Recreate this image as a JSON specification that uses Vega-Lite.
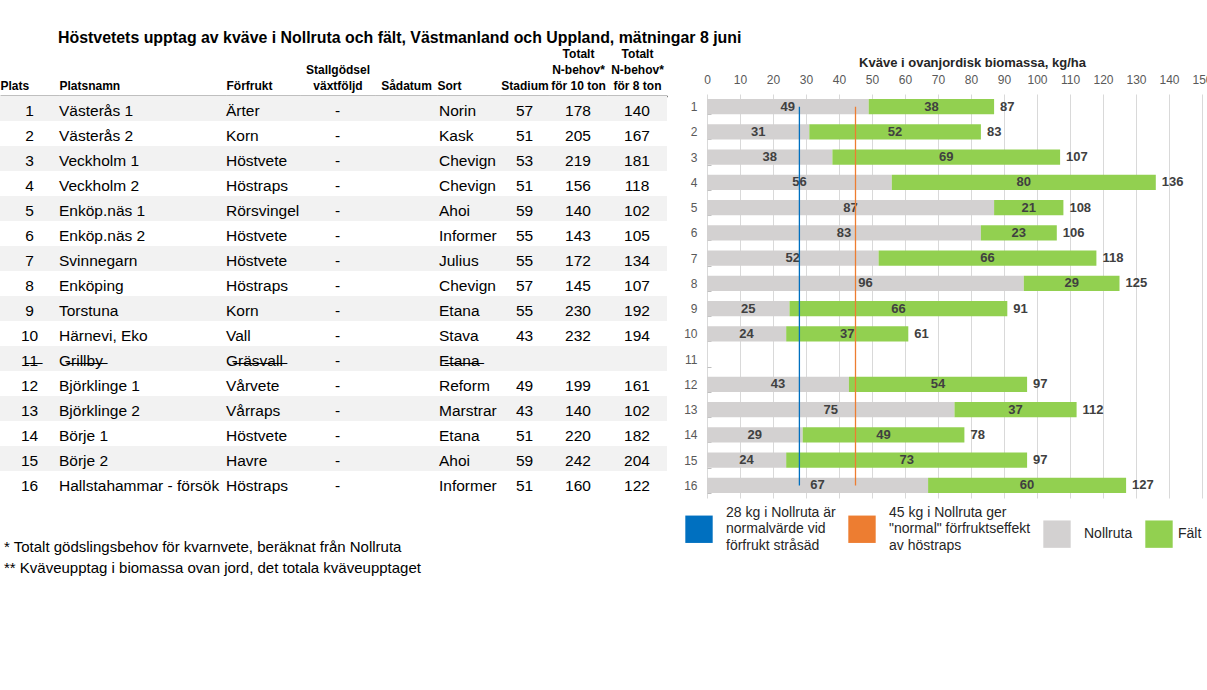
{
  "$schema": "https://vega.github.io/schema/vega-lite/v6.json",
  "background": "white",
  "padding": {"left": 0, "top": 30, "right": 0, "bottom": 0},
  "config": {"view": {"stroke": null}, "font": "Liberation Sans"},
  "title": {
    "text": "Höstvetets upptag av kväve i Nollruta och fält, Västmanland och Uppland, mätningar 8 juni",
    "anchor": "start", "frame": "group", "dx": 58, "offset": 1,
    "fontSize": 15.9, "fontWeight": "bold", "color": "#000000"
  },
  "data": {
    "values": [
      {"Plats": 1, "Platsnamn": "Västerås 1", "Förfrukt": "Ärter", "Stallgödsel": "-", "Sort": "Norin", "Stadium": 57, "N10": 178, "N8": 140, "Nollruta": 49, "Fält": 38},
      {"Plats": 2, "Platsnamn": "Västerås 2", "Förfrukt": "Korn", "Stallgödsel": "-", "Sort": "Kask", "Stadium": 51, "N10": 205, "N8": 167, "Nollruta": 31, "Fält": 52},
      {"Plats": 3, "Platsnamn": "Veckholm 1", "Förfrukt": "Höstvete", "Stallgödsel": "-", "Sort": "Chevign", "Stadium": 53, "N10": 219, "N8": 181, "Nollruta": 38, "Fält": 69},
      {"Plats": 4, "Platsnamn": "Veckholm 2", "Förfrukt": "Höstraps", "Stallgödsel": "-", "Sort": "Chevign", "Stadium": 51, "N10": 156, "N8": 118, "Nollruta": 56, "Fält": 80},
      {"Plats": 5, "Platsnamn": "Enköp.näs 1", "Förfrukt": "Rörsvingel", "Stallgödsel": "-", "Sort": "Ahoi", "Stadium": 59, "N10": 140, "N8": 102, "Nollruta": 87, "Fält": 21},
      {"Plats": 6, "Platsnamn": "Enköp.näs 2", "Förfrukt": "Höstvete", "Stallgödsel": "-", "Sort": "Informer", "Stadium": 55, "N10": 143, "N8": 105, "Nollruta": 83, "Fält": 23},
      {"Plats": 7, "Platsnamn": "Svinnegarn", "Förfrukt": "Höstvete", "Stallgödsel": "-", "Sort": "Julius", "Stadium": 55, "N10": 172, "N8": 134, "Nollruta": 52, "Fält": 66},
      {"Plats": 8, "Platsnamn": "Enköping", "Förfrukt": "Höstraps", "Stallgödsel": "-", "Sort": "Chevign", "Stadium": 57, "N10": 145, "N8": 107, "Nollruta": 96, "Fält": 29},
      {"Plats": 9, "Platsnamn": "Torstuna", "Förfrukt": "Korn", "Stallgödsel": "-", "Sort": "Etana", "Stadium": 55, "N10": 230, "N8": 192, "Nollruta": 25, "Fält": 66},
      {"Plats": 10, "Platsnamn": "Härnevi, Eko", "Förfrukt": "Vall", "Stallgödsel": "-", "Sort": "Stava", "Stadium": 43, "N10": 232, "N8": 194, "Nollruta": 24, "Fält": 37},
      {"Plats": 11, "Platsnamn": "Grillby", "Förfrukt": "Gräsvall", "Stallgödsel": "-", "Sort": "Etana", "Stadium": null, "N10": null, "N8": null, "Nollruta": null, "Fält": null},
      {"Plats": 12, "Platsnamn": "Björklinge 1", "Förfrukt": "Vårvete", "Stallgödsel": "-", "Sort": "Reform", "Stadium": 49, "N10": 199, "N8": 161, "Nollruta": 43, "Fält": 54},
      {"Plats": 13, "Platsnamn": "Björklinge 2", "Förfrukt": "Vårraps", "Stallgödsel": "-", "Sort": "Marstrar", "Stadium": 43, "N10": 140, "N8": 102, "Nollruta": 75, "Fält": 37},
      {"Plats": 14, "Platsnamn": "Börje 1", "Förfrukt": "Höstvete", "Stallgödsel": "-", "Sort": "Etana", "Stadium": 51, "N10": 220, "N8": 182, "Nollruta": 29, "Fält": 49},
      {"Plats": 15, "Platsnamn": "Börje 2", "Förfrukt": "Havre", "Stallgödsel": "-", "Sort": "Ahoi", "Stadium": 59, "N10": 242, "N8": 204, "Nollruta": 24, "Fält": 73},
      {"Plats": 16, "Platsnamn": "Hallstahammar - försök", "Förfrukt": "Höstraps", "Stallgödsel": "-", "Sort": "Informer", "Stadium": 51, "N10": 160, "N8": 122, "Nollruta": 67, "Fält": 60}
    ]
  },
  "bounds": "flush",
  "center": true,
  "spacing": 0,
  "resolve": {"scale": {"color": "independent"}, "legend": {"color": "independent"}},
  "hconcat": [
    {
      "width": 59, "height": 400,
      "title": {
        "text": ["* Totalt gödslingsbehov för kvarnvete, beräknat från Nollruta", "** Kväveupptag i biomassa ovan jord, det totala kväveupptaget"],
        "orient": "bottom", "anchor": "start", "frame": "group", "offset": 44, "dx": 4,
        "fontSize": 15, "fontWeight": "normal", "color": "#000000", "lineHeight": 21
      },
      "layer": [
        {
          "transform": [{"filter": "datum.Plats % 2 == 1"}],
          "mark": {"type": "rect", "color": "#F2F2F2"},
          "encoding": {"y": {"field": "Plats", "type": "ordinal", "scale": {"domain": [1,2,3,4,5,6,7,8,9,10,11,12,13,14,15,16], "paddingInner": 0, "paddingOuter": 0}, "axis": null}}
        },
        {
          "transform": [
            {"fold": ["Plats"], "as": ["kolumn", "varde"]},
            {"calculate": "!isValid(datum.varde) ? '' : datum.Plats == 11 ? replace(datum.varde + '', regexp('(.)', 'g'), '$1\u0336') : datum.varde", "as": "visning"}
          ],
          "mark": {"type": "text", "align": "center", "baseline": "middle", "dy": 2.5, "fontSize": 15.5, "color": "#000000"},
          "encoding": {
            "y": {"field": "Plats", "type": "ordinal", "axis": null},
            "x": {"field": "kolumn", "type": "nominal", "bandPosition": 0.5, "scale": {"type": "band", "paddingInner": 0, "paddingOuter": 0},
                  "axis": {"orient": "top", "title": "Plats", "titleAnchor": "start", "labels": false, "ticks": false, "domainColor": "#000000", "domainWidth": 1.5, "titleFontSize": 12, "titleFontWeight": "bold", "titleColor": "#000000", "titlePadding": 4, "titleLineHeight": 16}},
            "text": {"field": "visning", "type": "nominal"}
          }
        }
      ]
    },
    {
      "width": 167, "height": 400,
      "layer": [
        {
          "transform": [{"filter": "datum.Plats % 2 == 1"}],
          "mark": {"type": "rect", "color": "#F2F2F2"},
          "encoding": {"y": {"field": "Plats", "type": "ordinal", "scale": {"domain": [1,2,3,4,5,6,7,8,9,10,11,12,13,14,15,16], "paddingInner": 0, "paddingOuter": 0}, "axis": null}}
        },
        {
          "transform": [
            {"fold": ["Platsnamn"], "as": ["kolumn", "varde"]},
            {"calculate": "!isValid(datum.varde) ? '' : datum.Plats == 11 ? replace(datum.varde + '', regexp('(.)', 'g'), '$1\u0336') : datum.varde", "as": "visning"}
          ],
          "mark": {"type": "text", "align": "left", "baseline": "middle", "dy": 2.5, "fontSize": 15.5, "color": "#000000"},
          "encoding": {
            "y": {"field": "Plats", "type": "ordinal", "axis": null},
            "x": {"field": "kolumn", "type": "nominal", "bandPosition": 0, "scale": {"type": "band", "paddingInner": 0, "paddingOuter": 0},
                  "axis": {"orient": "top", "title": "Platsnamn", "titleAnchor": "start", "labels": false, "ticks": false, "domainColor": "#000000", "domainWidth": 1.5, "titleFontSize": 12, "titleFontWeight": "bold", "titleColor": "#000000", "titlePadding": 4, "titleLineHeight": 16}},
            "text": {"field": "visning", "type": "nominal"}
          }
        }
      ]
    },
    {
      "width": 74, "height": 400,
      "layer": [
        {
          "transform": [{"filter": "datum.Plats % 2 == 1"}],
          "mark": {"type": "rect", "color": "#F2F2F2"},
          "encoding": {"y": {"field": "Plats", "type": "ordinal", "scale": {"domain": [1,2,3,4,5,6,7,8,9,10,11,12,13,14,15,16], "paddingInner": 0, "paddingOuter": 0}, "axis": null}}
        },
        {
          "transform": [
            {"fold": ["Förfrukt"], "as": ["kolumn", "varde"]},
            {"calculate": "!isValid(datum.varde) ? '' : datum.Plats == 11 ? replace(datum.varde + '', regexp('(.)', 'g'), '$1\u0336') : datum.varde", "as": "visning"}
          ],
          "mark": {"type": "text", "align": "left", "baseline": "middle", "dy": 2.5, "fontSize": 15.5, "color": "#000000"},
          "encoding": {
            "y": {"field": "Plats", "type": "ordinal", "axis": null},
            "x": {"field": "kolumn", "type": "nominal", "bandPosition": 0, "scale": {"type": "band", "paddingInner": 0, "paddingOuter": 0},
                  "axis": {"orient": "top", "title": "Förfrukt", "titleAnchor": "start", "labels": false, "ticks": false, "domainColor": "#000000", "domainWidth": 1.5, "titleFontSize": 12, "titleFontWeight": "bold", "titleColor": "#000000", "titlePadding": 4, "titleLineHeight": 16}},
            "text": {"field": "visning", "type": "nominal"}
          }
        }
      ]
    },
    {
      "width": 75, "height": 400,
      "layer": [
        {
          "transform": [{"filter": "datum.Plats % 2 == 1"}],
          "mark": {"type": "rect", "color": "#F2F2F2"},
          "encoding": {"y": {"field": "Plats", "type": "ordinal", "scale": {"domain": [1,2,3,4,5,6,7,8,9,10,11,12,13,14,15,16], "paddingInner": 0, "paddingOuter": 0}, "axis": null}}
        },
        {
          "transform": [
            {"fold": ["Stallgödsel"], "as": ["kolumn", "varde"]},
            {"calculate": "isValid(datum.varde) ? datum.varde : ''", "as": "visning"}
          ],
          "mark": {"type": "text", "align": "center", "baseline": "middle", "dy": 2.5, "fontSize": 15.5, "color": "#000000"},
          "encoding": {
            "y": {"field": "Plats", "type": "ordinal", "axis": null},
            "x": {"field": "kolumn", "type": "nominal", "bandPosition": 0.5, "scale": {"type": "band", "paddingInner": 0, "paddingOuter": 0},
                  "axis": {"orient": "top", "title": ["Stallgödsel", "växtföljd"], "titleAnchor": "middle", "labels": false, "ticks": false, "domainColor": "#000000", "domainWidth": 1.5, "titleFontSize": 12, "titleFontWeight": "bold", "titleColor": "#000000", "titlePadding": 4, "titleLineHeight": 16}},
            "text": {"field": "visning", "type": "nominal"}
          }
        }
      ]
    },
    {
      "width": 62, "height": 400,
      "layer": [
        {
          "transform": [{"filter": "datum.Plats % 2 == 1"}],
          "mark": {"type": "rect", "color": "#F2F2F2"},
          "encoding": {"y": {"field": "Plats", "type": "ordinal", "scale": {"domain": [1,2,3,4,5,6,7,8,9,10,11,12,13,14,15,16], "paddingInner": 0, "paddingOuter": 0}, "axis": null}}
        },
        {
          "transform": [
            {"fold": ["Sådatum"], "as": ["kolumn", "varde"]},
            {"calculate": "isValid(datum.varde) ? datum.varde : ''", "as": "visning"}
          ],
          "mark": {"type": "text", "align": "center", "baseline": "middle", "dy": 2.5, "fontSize": 15.5, "color": "#000000"},
          "encoding": {
            "y": {"field": "Plats", "type": "ordinal", "axis": null},
            "x": {"field": "kolumn", "type": "nominal", "bandPosition": 0.5, "scale": {"type": "band", "paddingInner": 0, "paddingOuter": 0},
                  "axis": {"orient": "top", "title": "Sådatum", "titleAnchor": "middle", "labels": false, "ticks": false, "domainColor": "#000000", "domainWidth": 1.5, "titleFontSize": 12, "titleFontWeight": "bold", "titleColor": "#000000", "titlePadding": 4, "titleLineHeight": 16}},
            "text": {"field": "visning", "type": "nominal"}
          }
        }
      ]
    },
    {
      "width": 63, "height": 400,
      "layer": [
        {
          "transform": [{"filter": "datum.Plats % 2 == 1"}],
          "mark": {"type": "rect", "color": "#F2F2F2"},
          "encoding": {"y": {"field": "Plats", "type": "ordinal", "scale": {"domain": [1,2,3,4,5,6,7,8,9,10,11,12,13,14,15,16], "paddingInner": 0, "paddingOuter": 0}, "axis": null}}
        },
        {
          "transform": [
            {"fold": ["Sort"], "as": ["kolumn", "varde"]},
            {"calculate": "!isValid(datum.varde) ? '' : datum.Plats == 11 ? replace(datum.varde + '', regexp('(.)', 'g'), '$1\u0336') : datum.varde", "as": "visning"}
          ],
          "mark": {"type": "text", "align": "left", "baseline": "middle", "dx": 2, "dy": 2.5, "fontSize": 15.5, "color": "#000000"},
          "encoding": {
            "y": {"field": "Plats", "type": "ordinal", "axis": null},
            "x": {"field": "kolumn", "type": "nominal", "bandPosition": 0, "scale": {"type": "band", "paddingInner": 0, "paddingOuter": 0},
                  "axis": {"orient": "top", "title": "Sort", "titleAnchor": "start", "labels": false, "ticks": false, "domainColor": "#000000", "domainWidth": 1.5, "titleFontSize": 12, "titleFontWeight": "bold", "titleColor": "#000000", "titlePadding": 4, "titleLineHeight": 16}},
            "text": {"field": "visning", "type": "nominal"}
          }
        }
      ]
    },
    {
      "width": 49, "height": 400,
      "layer": [
        {
          "transform": [{"filter": "datum.Plats % 2 == 1"}],
          "mark": {"type": "rect", "color": "#F2F2F2"},
          "encoding": {"y": {"field": "Plats", "type": "ordinal", "scale": {"domain": [1,2,3,4,5,6,7,8,9,10,11,12,13,14,15,16], "paddingInner": 0, "paddingOuter": 0}, "axis": null}}
        },
        {
          "transform": [
            {"fold": ["Stadium"], "as": ["kolumn", "varde"]},
            {"calculate": "isValid(datum.varde) ? datum.varde : ''", "as": "visning"}
          ],
          "mark": {"type": "text", "align": "center", "baseline": "middle", "dy": 2.5, "fontSize": 15.5, "color": "#000000"},
          "encoding": {
            "y": {"field": "Plats", "type": "ordinal", "axis": null},
            "x": {"field": "kolumn", "type": "nominal", "bandPosition": 0.5, "scale": {"type": "band", "paddingInner": 0, "paddingOuter": 0},
                  "axis": {"orient": "top", "title": "Stadium", "titleAnchor": "middle", "labels": false, "ticks": false, "domainColor": "#000000", "domainWidth": 1.5, "titleFontSize": 12, "titleFontWeight": "bold", "titleColor": "#000000", "titlePadding": 4, "titleLineHeight": 16}},
            "text": {"field": "visning", "type": "nominal"}
          }
        }
      ]
    },
    {
      "width": 58, "height": 400,
      "layer": [
        {
          "transform": [{"filter": "datum.Plats % 2 == 1"}],
          "mark": {"type": "rect", "color": "#F2F2F2"},
          "encoding": {"y": {"field": "Plats", "type": "ordinal", "scale": {"domain": [1,2,3,4,5,6,7,8,9,10,11,12,13,14,15,16], "paddingInner": 0, "paddingOuter": 0}, "axis": null}}
        },
        {
          "transform": [
            {"fold": ["N10"], "as": ["kolumn", "varde"]},
            {"calculate": "isValid(datum.varde) ? datum.varde : ''", "as": "visning"}
          ],
          "mark": {"type": "text", "align": "center", "baseline": "middle", "dy": 2.5, "fontSize": 15.5, "color": "#000000"},
          "encoding": {
            "y": {"field": "Plats", "type": "ordinal", "axis": null},
            "x": {"field": "kolumn", "type": "nominal", "bandPosition": 0.5, "scale": {"type": "band", "paddingInner": 0, "paddingOuter": 0},
                  "axis": {"orient": "top", "title": ["Totalt", "N-behov*", "för 10 ton"], "titleAnchor": "middle", "labels": false, "ticks": false, "domainColor": "#000000", "domainWidth": 1.5, "titleFontSize": 12, "titleFontWeight": "bold", "titleColor": "#000000", "titlePadding": 4, "titleLineHeight": 16}},
            "text": {"field": "visning", "type": "nominal"}
          }
        }
      ]
    },
    {
      "width": 60, "height": 400,
      "layer": [
        {
          "transform": [{"filter": "datum.Plats % 2 == 1"}],
          "mark": {"type": "rect", "color": "#F2F2F2"},
          "encoding": {"y": {"field": "Plats", "type": "ordinal", "scale": {"domain": [1,2,3,4,5,6,7,8,9,10,11,12,13,14,15,16], "paddingInner": 0, "paddingOuter": 0}, "axis": null}}
        },
        {
          "transform": [
            {"fold": ["N8"], "as": ["kolumn", "varde"]},
            {"calculate": "isValid(datum.varde) ? datum.varde : ''", "as": "visning"}
          ],
          "mark": {"type": "text", "align": "center", "baseline": "middle", "dy": 2.5, "fontSize": 15.5, "color": "#000000"},
          "encoding": {
            "y": {"field": "Plats", "type": "ordinal", "axis": null},
            "x": {"field": "kolumn", "type": "nominal", "bandPosition": 0.5, "scale": {"type": "band", "paddingInner": 0, "paddingOuter": 0},
                  "axis": {"orient": "top", "title": ["Totalt", "N-behov*", "för 8 ton"], "titleAnchor": "middle", "labels": false, "ticks": false, "domainColor": "#000000", "domainWidth": 1.5, "titleFontSize": 12, "titleFontWeight": "bold", "titleColor": "#000000", "titlePadding": 4, "titleLineHeight": 16}},
            "text": {"field": "visning", "type": "nominal"}
          }
        }
      ]
    },
    {
      "width": 40, "height": 400,
      "data": {"values": []},
      "mark": {"type": "rect"},
      "encoding": {}
    },
    {
      "width": 495, "height": 404,
      "layer": [
        {
          "transform": [{"fold": ["Nollruta", "Fält"], "as": ["serie", "kg"]}, {"filter": "isValid(datum.kg)"}],
          "mark": {"type": "bar"},
          "encoding": {
            "y": {"field": "Plats", "type": "ordinal",
                  "scale": {"domain": [1,2,3,4,5,6,7,8,9,10,11,12,13,14,15,16], "paddingInner": 0.4, "paddingOuter": 0.2},
                  "axis": {"orient": "left", "title": null, "labelColor": "#595959", "labelFontSize": 12, "domain": false, "ticks": true, "tickColor": "#BFBFBF", "tickSize": -4, "tickBand": "extent", "labelPadding": 14, "labelAlign": "right", "labelBaseline": "middle"}},
            "x": {"field": "kg", "type": "quantitative", "stack": "zero",
                  "scale": {"domain": [0, 150], "nice": false},
                  "axis": {"orient": "top", "values": [0,10,20,30,40,50,60,70,80,90,100,110,120,130,140,150], "grid": true, "gridColor": "#D9D9D9", "domain": false, "ticks": false, "labelColor": "#595959", "labelFontSize": 12, "labelPadding": 8, "labelFlush": false, "labelOverlap": false, "labelBound": false,
                           "title": "Kväve i ovanjordisk biomassa, kg/ha", "titleFontSize": 13, "titleFontWeight": "bold", "titleColor": "#262626", "titlePadding": 4, "titleX": 265}},
            "color": {"field": "serie", "type": "nominal",
                      "scale": {"domain": ["28 kg i Nollruta är normalvärde vid förfrukt stråsäd", "45 kg i Nollruta ger \"normal\" förfruktseffekt av höstraps", "Nollruta", "Fält"],
                                "range": ["#0070C0", "#ED7D31", "#D3D1D1", "#92D050"]},
                      "legend": {"title": null, "orient": "none", "legendX": -22, "legendY": 421, "direction": "horizontal", "columns": 4,
                                 "symbolType": "square", "symbolSize": 750, "symbolStrokeWidth": 0, "symbolOpacity": 1,
                                 "labelFontSize": 14, "labelColor": "#262626", "labelOffset": 13, "columnPadding": 12, "labelLimit": 250,
                                 "labelExpr": "indexof(datum.label, '28 kg') == 0 ? ['28 kg i Nollruta är', 'normalvärde vid', 'förfrukt stråsäd'] : indexof(datum.label, '45 kg') == 0 ? ['45 kg i Nollruta ger', '\"normal\" förfruktseffekt', 'av höstraps'] : datum.label",
                                 "encode": {"labels": {"update": {"lineHeight": {"value": 16.5}, "dy": {"signal": "indexof(datum.label, ' kg i ') > 0 ? -16.5 : 0"}, "dx": {"signal": "datum.label == 'Fält' ? -8 : 0"}}}}}},
            "order": {"field": "serie", "sort": "descending"}
          }
        },
        {
          "transform": [{"fold": ["Nollruta", "Fält"], "as": ["serie", "kg"]}, {"filter": "isValid(datum.kg)"}],
          "mark": {"type": "text", "fontSize": 13, "fontWeight": "bold", "color": "#404040", "baseline": "middle"},
          "encoding": {
            "y": {"field": "Plats", "type": "ordinal",
                  "axis": {"orient": "left", "title": null, "labelColor": "#595959", "labelFontSize": 12, "domain": false, "ticks": true, "tickColor": "#BFBFBF", "tickSize": -4, "tickBand": "extent", "labelPadding": 14, "labelAlign": "right", "labelBaseline": "middle"}},
            "x": {"field": "kg", "type": "quantitative", "stack": "zero", "bandPosition": 0.5,
                  "axis": {"orient": "top", "values": [0,10,20,30,40,50,60,70,80,90,100,110,120,130,140,150], "grid": true, "gridColor": "#D9D9D9", "domain": false, "ticks": false, "labelColor": "#595959", "labelFontSize": 12, "labelPadding": 8, "labelFlush": false, "labelOverlap": false, "labelBound": false,
                           "title": "Kväve i ovanjordisk biomassa, kg/ha", "titleFontSize": 13, "titleFontWeight": "bold", "titleColor": "#262626", "titlePadding": 4, "titleX": 265}},
            "detail": {"field": "serie"},
            "order": {"field": "serie", "sort": "descending"},
            "text": {"field": "kg", "type": "quantitative"}
          }
        },
        {
          "transform": [{"fold": ["Nollruta", "Fält"], "as": ["serie", "kg"]}, {"filter": "isValid(datum.kg)"}],
          "mark": {"type": "text", "fontSize": 13, "fontWeight": "bold", "color": "#404040", "baseline": "middle", "align": "left", "dx": 6},
          "encoding": {
            "y": {"field": "Plats", "type": "ordinal",
                  "axis": {"orient": "left", "title": null, "labelColor": "#595959", "labelFontSize": 12, "domain": false, "ticks": true, "tickColor": "#BFBFBF", "tickSize": -4, "tickBand": "extent", "labelPadding": 14, "labelAlign": "right", "labelBaseline": "middle"}},
            "x": {"aggregate": "sum", "field": "kg", "type": "quantitative",
                  "axis": {"orient": "top", "values": [0,10,20,30,40,50,60,70,80,90,100,110,120,130,140,150], "grid": true, "gridColor": "#D9D9D9", "domain": false, "ticks": false, "labelColor": "#595959", "labelFontSize": 12, "labelPadding": 8, "labelFlush": false, "labelOverlap": false, "labelBound": false,
                           "title": "Kväve i ovanjordisk biomassa, kg/ha", "titleFontSize": 13, "titleFontWeight": "bold", "titleColor": "#262626", "titlePadding": 4, "titleX": 265}},
            "text": {"aggregate": "sum", "field": "kg", "type": "quantitative"}
          }
        },
        {
          "data": {"values": [
            {"linje": "28 kg i Nollruta är normalvärde vid förfrukt stråsäd", "kg": 28, "fra": 1, "til": 16},
            {"linje": "45 kg i Nollruta ger \"normal\" förfruktseffekt av höstraps", "kg": 45, "fra": 1, "til": 16}
          ]},
          "mark": {"type": "rule", "strokeWidth": 1.3},
          "encoding": {
            "x": {"field": "kg", "type": "quantitative",
                  "axis": {"orient": "top", "values": [0,10,20,30,40,50,60,70,80,90,100,110,120,130,140,150], "grid": true, "gridColor": "#D9D9D9", "domain": false, "ticks": false, "labelColor": "#595959", "labelFontSize": 12, "labelPadding": 8, "labelFlush": false, "labelOverlap": false, "labelBound": false,
                           "title": "Kväve i ovanjordisk biomassa, kg/ha", "titleFontSize": 13, "titleFontWeight": "bold", "titleColor": "#262626", "titlePadding": 4, "titleX": 265}},
            "y": {"field": "fra", "type": "ordinal",
                  "axis": {"orient": "left", "title": null, "labelColor": "#595959", "labelFontSize": 12, "domain": false, "ticks": true, "tickColor": "#BFBFBF", "tickSize": -4, "tickBand": "extent", "labelPadding": 14, "labelAlign": "right", "labelBaseline": "middle"}},
            "y2": {"field": "til"},
            "color": {"field": "linje", "type": "nominal"}
          }
        }
      ]
    }
  ]
}
